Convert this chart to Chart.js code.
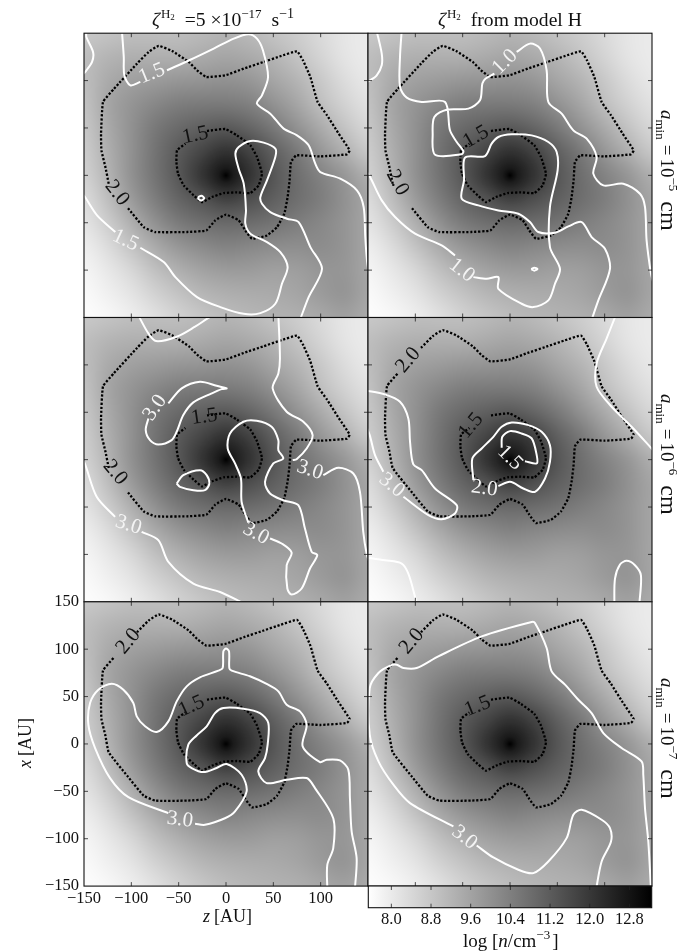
<!DOCTYPE html>
<html>
<head>
<meta charset="utf-8">
<title>Density and ionisation contours</title>
<script src="https://cdn.jsdelivr.net/npm/chart.js@4"></script>
<style>
	html, body { margin: 0; padding: 0; background: #fff; }
	#page { position: relative; width: 697px; height: 951px; overflow: hidden; }
	#page canvas { position: absolute; left: 0; top: 0; }
</style>
</head>
<body>
<div id="page"></div>
<script>
const AU_TICKS = [-150, -100, -50, 0, 50, 100, 150];
const CBAR_TICKS = [8.0, 8.8, 9.6, 10.4, 11.2, 12.0, 12.8];
const CBAR_MIN = 7.535;
const CBAR_MAX = 13.25;

const GRID_AU = [-150, -125, -100, -75, -50, -25, 0, 25, 50, 75, 100, 125, 150];
const density = [
	[8.77, 8.88, 8.99, 8.99, 8.99, 9.10, 9.22, 9.10, 8.88, 8.66, 8.36, 8.10, 7.98],
	[8.99, 9.22, 9.33, 9.33, 9.33, 9.44, 9.55, 9.44, 9.22, 8.88, 8.50, 8.14, 7.98],
	[8.99, 9.44, 9.66, 9.78, 9.89, 9.93, 10.0, 9.89, 9.55, 9.22, 8.77, 8.32, 8.05],
	[8.88, 9.55, 9.93, 10.22, 10.45, 10.52, 10.52, 10.38, 10.0, 9.55, 8.99, 8.54, 8.21],
	[8.77, 9.44, 10.0, 10.56, 10.90, 11.12, 11.28, 11.01, 10.56, 10.0, 9.44, 8.88, 8.43],
	[8.66, 9.33, 10.0, 10.67, 11.23, 11.72, 12.15, 11.80, 11.12, 10.56, 9.89, 9.33, 8.77],
	[8.54, 9.22, 10.0, 10.67, 11.30, 12.10, 12.50, 12.14, 11.35, 10.78, 10.34, 9.89, 9.33],
	[8.32, 8.99, 9.78, 10.45, 11.01, 11.40, 11.80, 11.50, 11.12, 10.78, 10.45, 10.0, 9.55],
	[8.14, 8.66, 9.33, 10.0, 10.52, 10.78, 10.90, 10.83, 10.67, 10.45, 10.22, 9.93, 9.55],
	[7.92, 8.32, 8.88, 9.44, 9.89, 10.16, 10.34, 10.22, 10.11, 10.07, 10.11, 9.93, 9.55],
	[7.76, 8.05, 8.43, 8.95, 9.33, 9.62, 9.78, 9.78, 9.66, 9.71, 9.89, 9.89, 9.55],
	[7.65, 7.87, 8.14, 8.54, 8.88, 9.17, 9.33, 9.40, 9.44, 9.55, 9.78, 9.93, 9.55],
	[7.58, 7.69, 7.92, 8.21, 8.54, 8.81, 9.04, 9.17, 9.26, 9.33, 9.49, 9.66, 9.44],
];
// sharp core at the origin: radius in AU, and how much of the grid gray is kept
const coreRadius = [0, 4, 8, 14, 22, 32];
const coreKeep = [0.0, 0.4, 0.68, 0.84, 0.95, 1.0];

// dotted contours, [z, x] in AU, the same in every panel
const dotted20 = [
	[-123.9, -8.8], [-127.4, 8.8], [-131.6, 26.4], [-132, 44], [-129.9, 77.4], [-118.6, 91],
	[-94, 117.9], [-81.7, 130.2], [-71.1, 136.6], [-57, 131.3], [-39.4, 119.7], [-30.6, 110.9],
	[-20.8, 103.8], [-0.7, 105.6], [18.7, 112.6], [39.8, 119.7], [57.4, 125.7], [75, 130.9],
	[81.3, 121.4], [89.1, 103.8], [96.8, 77.4], [106.7, 63.4], [119, 44], [130.6, 26.4],
	[127.8, 22.2], [99.6, 20], [74.3, 21.1], [68.6, 14.1], [67.2, -5.3], [65.1, -22.9],
	[61.6, -40.5], [53.9, -54.6], [43.3, -63.4], [27.5, -66.9], [20.4, -58.1], [13.4, -47.5],
	[0, -41.5], [-11.3, -47.5], [-20.8, -58.1], [-41.2, -59.8], [-74.6, -59.8], [-86.9, -54.6],
	[-104.5, -33.4],
];
const dotted15 = [
	[-20.1, 46.8], [-0.7, 48.9], [11.6, 42.2], [25.7, 31.7], [32.7, 19.4], [38, 1.8],
	[34.5, -10.6], [25.7, -18.7], [11.6, -18], [-2.5, -18.7], [-14.8, -22.9], [-25.3, -28.2],
	[-34.1, -21.1], [-44.7, -10.6], [-50.7, 1.8], [-52.4, 14.1], [-51.7, 26.4], [-42.9, 33.4],
];
// same outer contour with the label gap at the upper left instead of the lower left
const dotted20Upper = dotted20.slice(6).concat(dotted20.slice(0, 6));

const white1 = [
	[[-147.5, 152], [-147.5, 146], [-140.4, 130], [-141.5, 119.7], [-148.9, 109], [-153, 105]],
	[[-110, 153], [-108, 125], [-107.4, 105.6], [-101, 95], [-90.5, 98.6]],
	[[-62.3, 110.9], [-37.7, 122], [-13, 133.8], [8.1, 144.3], [23.9, 148.9], [32.7, 144.3], [39, 132],
		[44.4, 103.8], [38, 84.5], [32.7, 75.7], [46.8, 65.1], [60.9, 49.3], [75, 42.2], [87.3, 31.7],
		[94.3, 12.3], [99.6, 3.5], [120.7, -3.5], [138.3, -15.8], [145.4, -33.4], [147.1, -65.1],
		[148.9, -89.8], [151, -105]],
	[[78, -153], [87.3, -128.5], [101.4, -98.6], [89.1, -75.7], [76.7, -49.3], [64.4, -45.8], [46.8, -38.7],
		[38, -29.9], [36.3, -22.9], [43.3, -5.3], [52.1, 19.4], [52.1, 28.2], [39.8, 34.5], [25.7, 36.3],
		[13.4, 29.9], [9.9, 22.9], [13.4, 7], [18.7, -8.8], [21.1, -37], [20.4, -51], [25.7, -61.6],
		[43.3, -70.4], [57.4, -81], [65.1, -96.8], [59.1, -114.4], [52.1, -135.5], [36.3, -145.4],
		[18.7, -146.1], [-6, -139], [-30.6, -128.5], [-53.5, -107.4], [-65.8, -91.5], [-90.5, -76.4]],
	[[-116.9, -59.8], [-136.2, -42.2], [-148.9, -22.9], [-153, -18]],
	[[-29.5, -23], [-26, -21.5], [-23, -24], [-26, -26.5], [-29, -25], [-29.5, -23]],
];
const labels1 = [
	["1.5", -78.2, 107.4, -22, "w"], ["1.5", -106.3, -68.6, 25, "w"],
	["2.0", -115.1, -18.7, 52, "k"], ["1.5", -32.4, 42.2, -12, "k"],
];

const white2 = [
	[[-140.8, 152], [-135.5, 128.5], [-135.5, 116.2], [-140.8, 105.6], [-147.8, 100.3], [-153, 98]],
	[[-114.4, 153], [-116.2, 125], [-116.2, 93.3], [-109.1, 82], [-93.3, 77.4], [-68.6, 77.4], [-63.4, 47.5],
		[-56.3, 35.2], [-49.3, 25.7], [-51, 22.2], [-79.2, 21.8], [-81.7, 44], [-79.9, 61.6], [-66.9, 69.3],
		[-44, 70.4], [-31.7, 79.2], [-29.2, 96.8], [-25.7, 102.1], [-16.5, 107.4]],
	[[7, 130.2], [21.1, 139], [31.7, 133.8], [38.7, 110.9], [40.5, 77.4], [54.6, 65.1], [66.9, 47.5],
		[81, 38.7], [91.5, 19.4], [88, 1.8], [98.6, -10.6], [119.7, -8.8], [137.3, -19.4], [142.6, -33.4],
		[144.3, -68.6], [148.9, -103.8], [151, -112]],
	[[86, -153], [93.3, -132], [105.6, -98.6], [100.3, -77.4], [86.2, -65.1], [75.7, -49.3], [61.6, -53.9],
		[47.5, -60.5], [29.9, -59.8], [21.1, -49.3], [8.8, -40.5], [-12.3, -37], [-33.4, -31.7], [-51, -24.6],
		[-48.6, -5.3], [-47.5, 18.7], [-26.4, 20.4], [-19.4, 33.4], [-12.3, 40.5], [1.8, 43.3], [22.9, 42.2],
		[40.5, 35.2], [49.3, 24.6], [50.3, 5.3], [42.2, -33.4], [42.2, -75.7], [52.8, -98.6], [47.5, -114.4],
		[40.5, -132], [24.6, -139], [12.3, -135.5], [-12.3, -119.7], [-12.3, -107.4], [-24.6, -109.1], [-38.7, -107.4]],
	[[-58.1, -84.5], [-72.2, -73.9], [-100.3, -61.6], [-121.4, -44], [-135.5, -26.4], [-147.8, -1.8], [-153, 6]],
	[[22.4, -99], [25.7, -97.4], [29, -98.8], [25.7, -100.6], [22.4, -99]],
];
const labels2 = [
	["1.0", -5.3, 119.7, -45, "w"], ["1.0", -51, -100.3, 38, "w"],
	["2.0", -119, -7.7, 62, "k"], ["1.5", -35.9, 40.5, -30, "k"],
];

const white3 = [
	[[-93, 153], [-82, 133.2], [-73.9, 125.1], [-52.1, 129.7], [-32.7, 140.3], [-19.4, 149], [-12, 153]],
	[[55.3, 153], [57, 106.8], [55.3, 91], [49.3, 75.2], [64.1, 50.5], [81.7, 40], [91.5, 25.9], [85.2, 11.8],
		[74.6, 0.5], [70.4, -0.5]],
	[[102.8, -16.4], [118.6, -8.6], [134.5, -14.6], [141.5, -34], [145, -76.2], [148.5, -99], [152, -110]],
	[[23.6, -66.4], [16.5, -44.5], [15.8, -19.9], [9.5, -4], [1.8, 11.8], [4.2, 27.6], [18.3, 40], [32.4, 41],
		[48.2, 34.7], [55.3, 20.6], [55.3, 10], [60.5, 1.2], [50, -4], [41.2, -23.4], [46.5, -35.7], [60.5, -42.8],
		[76.4, -48], [83.4, -72.7], [90.5, -97.3], [96.4, -100.8], [88.7, -114.9], [79.9, -136], [69.3, -142.4],
		[64.8, -136], [64.1, -111.4], [69.3, -98], [58.8, -88.5], [46.5, -83.2]],
	[[-60.9, 59.3], [-46.8, 75.2], [-27.5, 82.2], [-9.9, 78], [0.7, 75.2], [-4.6, 74.4], [-15.1, 69.9], [-34.5, 60.4],
		[-45.1, 47], [-52.1, 29.4], [-57.4, 20.6], [-71.5, 16], [-80.3, 20.6], [-84.8, 31.2], [-82, 43.5]],
	[[-52.1, -25.2], [-45.1, -16.4], [-27.5, -11.1], [-20.4, -16.4], [-17.6, -25.2], [-22.2, -32.2], [-34.5, -32.2],
		[-48.6, -28.7], [-52.1, -25.2]],
	[[-153, 2], [-149.2, -4], [-136.6, -39.2], [-117.2, -60.4]],
	[[-89.1, -76.2], [-71.5, -85], [-60.9, -107.9], [-34.5, -130.8], [-6.3, -139.6], [14.1, -149.4], [20, -153]],
];
const labels3 = [
	["3.0", -75, 54.7, -55, "w"], ["3.0", 88.7, -11, 18, "w"], ["3.0", 31.7, -78, 28, "w"],
	["3.0", -103, -69, 18, "w"], ["2.0", -117.2, -13.6, 50, "k"], ["1.5", -22.9, 45.2, -8, "k"],
];

const white4 = [
	[[112, 153], [102.1, 128], [91.5, 101.5], [91.5, 76.9], [107.4, 55.8], [128.5, 34.7], [148.9, 12.5], [153, 8]],
	[[-153, 73], [-132, 68.8], [-116.2, 61.1], [-107.4, 43.5], [-105.6, 18.8], [-102.1, -5.1], [-93.3, -11.1],
		[-79.2, -30.4], [-56.3, -48], [-58.1, -56.8], [-72.2, -62.8], [-86.2, -58.6], [-112.6, -39.2]],
	[[-133.8, -12.8], [-142.6, 4.8], [-148.2, 25.9], [-153, 38]],
	[[-38.7, -21.6], [-39.8, 1.2], [-29.9, 11.8], [-17.6, 24.1], [-8.8, 34.7], [1.8, 39.2], [19.4, 36.4], [33.4, 29.4],
		[42.2, 15.3], [42.2, -2.3], [37, -19.9], [26.4, -34], [14.1, -30.4], [0, -23.4], [-12.3, -28]],
	[[-8.8, 12.5], [-8.1, 24.1], [0, 30.1], [12.3, 27.6], [22.9, 22.4], [28.2, 4.8], [28.2, -4], [15.8, -1.6]],
	[[-153, -103], [-132, -106.1], [-114.4, -109.6], [-107.4, -120.2], [-100.3, -144.8], [-98.6, -153]],
	[[110.2, -153], [110.9, -125.5], [116.2, -110.7], [123.2, -106.8], [132, -111.4], [138.3, -122], [136.6, -153]],
];
const labels4 = [
	["3.0", -125, -27, 40, "w"], ["2.0", -27.1, -30.4, 8, "w"], ["1.5", 0, 1.9, 45, "w"],
	["2.0", -107.4, 105, -50, "k"], ["1.5", -41.2, 35.7, -50, "k"],
];

const white5 = [
	[[136.2, -153], [138, -120.5], [132.7, -92.3], [130.9, -57.1], [129.2, -27.2], [120.4, -17.4], [106.3, -16.6],
		[99.3, -19.1], [81, -2.6], [85.2, 20.3], [78.1, 34.4], [64.1, 41.4], [55.3, 55.5], [42.9, 63.3], [25.3, 71.4],
		[6, 77.3], [3.5, 80.1], [3.2, 97.7], [0, 100.6], [-2.8, 97.7], [-3.5, 80.1], [-8.1, 77.3], [-27.5, 70.3],
		[-41.5, 60.8], [-52.1, 44.9], [-60.9, 23.8], [-73.2, 12.6], [-85.5, 18.6], [-94.3, 29.1], [-97.9, 43.2],
		[-108.4, 57.3], [-120.7, 63.6], [-134.8, 57.3], [-143.6, 43.2], [-145.4, 20.3], [-138.3, -4.3], [-122.5, -36],
		[-103.1, -56.1], [-60.9, -73]],
	[[-32.7, -84.3], [-22.2, -85.3], [-1.1, -78.4], [9.5, -71.2], [21.8, -50.1], [16.5, -32.5], [0.7, -21.2],
		[-9.9, -25.4], [-23.9, -29.7], [-36.3, -25.4], [-41.5, -20.2], [-39.8, -0.8], [-31, 9], [-20.4, 18.6],
		[-11.6, 32.6], [-2.8, 37.9], [18.3, 37.2], [35.9, 32.6], [44.7, 22.1], [44, -0.8], [41.2, -14.9], [34.1, -29],
		[42.9, -41.3], [64.1, -37.8], [85.2, -36], [94, -46.6], [113.3, -78.4], [113.3, -110], [107, -127.6], [107, -153]],
];
const labels5 = [
	["3.0", -48.6, -80, 8, "w"], ["2.0", -103.1, 108.3, -50, "k"], ["1.5", -36.3, 39.7, -25, "k"],
];

const white6 = [
	[[91, -153], [96.8, -124], [106.7, -102.9], [105.6, -88.8], [96.8, -80], [75.7, -69.5], [66.9, -74.7], [59.8, -99.4],
		[40.5, -124], [24.6, -136.3], [8.8, -132.8], [-17.6, -119.8], [-35.2, -107.1]],
	[[-59.8, -87.1], [-105.6, -62.4], [-123.2, -43], [-139, -18.4], [-148.2, 9.8], [-148.2, 59], [-139, 74.9],
		[-126.7, 82.6], [-119.7, 83.6], [-112.6, 80.1], [-98.6, 80.1], [-75.7, 92.4], [-29.9, 113.5], [22.9, 128.7],
		[26.4, 127.7], [38.7, 101.3], [44, 76.6], [58.1, 62.6], [72.2, 46.7], [86.2, 32.6], [98.6, 11.5], [117.9, -4.3],
		[139, -18.4], [140.8, -32.5], [142.6, -67.7], [146.1, -103], [148.9, -153]],
];
const labels6 = [
	["3.0", -48.2, -98.7, 38, "w"], ["2.0", -103.8, 108.3, -50, "k"], ["1.5", -34.1, 39.7, -22, "k"],
];

const SERIF = '"Liberation Serif"';
const PANEL_W = 284;
const PANEL_H = 284.3;
const COL_LEFT = [84, 368];
const ROW_TOP = [33.2, 317.5, 601.8];

const grayOf = (v) => Math.round((255 * (CBAR_MAX - v)) / (CBAR_MAX - CBAR_MIN));

// the density field as a small image, stretched over the panel like imshow
const densityImage = document.createElement("canvas");
densityImage.width = GRID_AU.length;
densityImage.height = GRID_AU.length;
const imgCtx = densityImage.getContext("2d");
const imgData = imgCtx.createImageData(GRID_AU.length, GRID_AU.length);
density.forEach((row, r) => {
	row.forEach((v, c) => {
		const i = (r * GRID_AU.length + c) * 4;
		imgData.data[i] = imgData.data[i + 1] = imgData.data[i + 2] = grayOf(v);
		imgData.data[i + 3] = 255;
	});
});
imgCtx.putImageData(imgData, 0, 0);

// text made of runs with their own size, slant and baseline shift
const drawRuns = (ctx, x, y, runs, angle) => {
	ctx.save();
	ctx.translate(x, y);
	ctx.rotate((angle || 0) * Math.PI / 180);
	ctx.textAlign = "left";
	ctx.textBaseline = "alphabetic";
	ctx.fillStyle = "#111";
	let pos = 0;
	runs.forEach((run) => {
		ctx.font = (run.i ? "italic " : "") + run.s + "px " + SERIF;
		ctx.fillText(run.t, pos, run.dy || 0);
		pos += ctx.measureText(run.t).width + (run.gap || 0);
	});
	ctx.restore();
};

const panelPlugin = {
	id: "panel",
	beforeDatasetsDraw(chart) {
		const { ctx, chartArea, scales } = chart;
		const half = (GRID_AU[1] - GRID_AU[0]) / 2;
		const x0 = scales.x.getPixelForValue(GRID_AU[0] - half);
		const x1 = scales.x.getPixelForValue(GRID_AU[GRID_AU.length - 1] + half);
		const y0 = scales.y.getPixelForValue(GRID_AU[GRID_AU.length - 1] + half);
		const y1 = scales.y.getPixelForValue(GRID_AU[0] - half);
		const cx = scales.x.getPixelForValue(0);
		const cy = scales.y.getPixelForValue(0);
		const outer = scales.x.getPixelForValue(coreRadius[coreRadius.length - 1]) - cx;
		ctx.save();
		ctx.beginPath();
		ctx.rect(chartArea.left, chartArea.top, chartArea.width, chartArea.height);
		ctx.clip();
		ctx.imageSmoothingEnabled = true;
		ctx.imageSmoothingQuality = "high";
		ctx.drawImage(densityImage, x0, y0, x1 - x0, y1 - y0);
		const core = ctx.createRadialGradient(cx, cy, 0, cx, cy, outer);
		coreRadius.forEach((r, i) => {
			const k = Math.round(coreKeep[i] * 255);
			core.addColorStop(r / coreRadius[coreRadius.length - 1], `rgb(${k},${k},${k})`);
		});
		ctx.globalCompositeOperation = "multiply";
		ctx.fillStyle = core;
		ctx.fillRect(cx - outer, cy - outer, outer * 2, outer * 2);
		ctx.restore();
	},
	afterDatasetsDraw(chart, args, opts) {
		const { ctx, chartArea, scales } = chart;
		const { left, right, top, bottom } = chartArea;
		ctx.save();
		ctx.beginPath();
		ctx.rect(left, top, chartArea.width, chartArea.height);
		ctx.clip();
		ctx.textAlign = "center";
		ctx.textBaseline = "middle";
		ctx.font = "21px " + SERIF;
		opts.labels.forEach(([text, z, x, angle, tone]) => {
			ctx.save();
			ctx.translate(scales.x.getPixelForValue(z), scales.y.getPixelForValue(x));
			ctx.rotate(angle * Math.PI / 180);
			ctx.fillStyle = tone === "w" ? "#f4f4f4" : "#111";
			ctx.fillText(text, 0, 0);
			ctx.restore();
		});
		ctx.restore();

		// inward ticks on all four sides
		ctx.save();
		ctx.strokeStyle = "#222";
		ctx.lineWidth = 0.8;
		ctx.beginPath();
		AU_TICKS.slice(1, -1).forEach((t) => {
			const px = scales.x.getPixelForValue(t);
			const py = scales.y.getPixelForValue(t);
			ctx.moveTo(px, bottom);
			ctx.lineTo(px, bottom - 4);
			ctx.moveTo(px, top);
			ctx.lineTo(px, top + 4);
			ctx.moveTo(left, py);
			ctx.lineTo(left + 4, py);
			ctx.moveTo(right, py);
			ctx.lineTo(right - 4, py);
		});
		ctx.stroke();
		ctx.lineWidth = 1.1;
		ctx.strokeStyle = "#111";
		ctx.strokeRect(left, top, chartArea.width, chartArea.height);
		ctx.restore();

		(opts.texts || []).forEach((t) => drawRuns(ctx, t.x, t.y, t.runs, t.angle));
	},
};

const sizeLabel = (exp, y) => ({
	x: 661,
	y: y,
	angle: 90,
	runs: [
		{ t: "a", s: 19, i: true },
		{ t: "min", s: 13, dy: 5, gap: 5 },
		{ t: "=", s: 19, gap: 3 },
		{ t: "10", s: 19 },
		{ t: "\u2212" + exp, s: 13, dy: -8, gap: 10 },
		{ t: "cm", s: 24 },
	],
});

const titleLeft = {
	x: 152,
	y: 26,
	runs: [
		{ t: "\u03b6", s: 19.6, i: true, gap: 1 },
		{ t: "H", s: 13, dy: -8 },
		{ t: "2", s: 9, dy: -6, gap: 10 },
		{ t: "=5 \u00d710", s: 19.6 },
		{ t: "\u221217", s: 13, dy: -8, gap: 10 },
		{ t: "s", s: 19.6 },
		{ t: "\u22121", s: 14, dy: -8 },
	],
};
const titleRight = {
	x: 438,
	y: 26,
	runs: [
		{ t: "\u03b6", s: 19.6, i: true, gap: 1 },
		{ t: "H", s: 13, dy: -8 },
		{ t: "2", s: 9, dy: -6, gap: 10 },
		{ t: "from model H", s: 19.6 },
	],
};
const axisTexts = [
	{
		x: 31,
		y: 768,
		angle: -90,
		runs: [{ t: "x", s: 18, i: true, gap: 4 }, { t: "[AU]", s: 18 }],
	},
	{
		x: 203,
		y: 922,
		runs: [{ t: "z", s: 18, i: true, gap: 4 }, { t: "[AU]", s: 18 }],
	},
];

const formatTick = (v) => (v < 0 ? "\u2212" + Math.abs(v) : String(v));

const auScale = (shown, fixedSize, pad, lastLabel) => ({
	type: "linear",
	min: -150,
	max: 150,
	display: shown,
	grid: { display: false, drawTicks: false },
	border: { display: false },
	afterBuildTicks: (scale) => {
		scale.ticks = AU_TICKS.map((v) => ({ value: v }));
	},
	afterFit: (scale) => {
		if (scale.isHorizontal()) scale.height = fixedSize;
		else scale.width = fixedSize;
	},
	ticks: {
		autoSkip: false,
		maxRotation: 0,
		padding: pad,
		color: "#111",
		font: { family: SERIF, size: 16.5 },
		callback: (v) => (v === 150 && !lastLabel ? "" : formatTick(v)),
	},
});

const newCanvas = () => {
	const canvas = document.createElement("canvas");
	canvas.width = 697;
	canvas.height = 951;
	document.querySelector("#page").appendChild(canvas);
	return canvas;
};

const drawPanel = (col, row, whites, labels, outer, texts, withAxes) => {
	const datasets = [];
	whites.forEach((line) => {
		datasets.push({
			data: line.map(([z, x]) => ({ x: z, y: x })),
			showLine: true,
			pointRadius: 0,
			borderColor: "#fff",
			borderWidth: 2,
			tension: 0.3,
		});
	});
	[outer, dotted15].forEach((line) => {
		datasets.push({
			data: line.map(([z, x]) => ({ x: z, y: x })),
			showLine: true,
			pointRadius: 0,
			borderColor: "#000",
			borderWidth: 2.3,
			borderDash: [2.2, 1.8],
			tension: 0.12,
		});
	});
	const xAxisSize = withAxes ? 30 : 0;
	const yAxisSize = withAxes ? 40 : 0;
	new Chart(newCanvas(), {
		type: "scatter",
		data: { datasets: datasets },
		options: {
			responsive: false,
			animation: false,
			events: [],
			layout: {
				padding: {
					left: COL_LEFT[col] - yAxisSize,
					top: ROW_TOP[row],
					right: 697 - COL_LEFT[col] - PANEL_W,
					bottom: 951 - ROW_TOP[row] - PANEL_H - xAxisSize,
				},
			},
			scales: {
				x: auScale(withAxes, xAxisSize, 3, false),
				y: auScale(withAxes, yAxisSize, 5, true),
			},
			plugins: {
				legend: { display: false },
				tooltip: { enabled: false },
				title: { display: false },
				panel: { labels: labels, texts: texts },
			},
		},
		plugins: [panelPlugin],
	});
};

const colorbarPlugin = {
	id: "colorbar",
	beforeDatasetsDraw(chart) {
		const { ctx, chartArea, scales } = chart;
		const { top, bottom, left } = chartArea;
		const fade = ctx.createLinearGradient(
			scales.x.getPixelForValue(CBAR_MIN), 0,
			scales.x.getPixelForValue(CBAR_MAX), 0
		);
		fade.addColorStop(0, "#fff");
		fade.addColorStop(1, "#000");
		ctx.save();
		ctx.fillStyle = fade;
		ctx.fillRect(left, top, chartArea.width, chartArea.height);
		ctx.strokeStyle = "#222";
		ctx.lineWidth = 0.8;
		ctx.beginPath();
		CBAR_TICKS.forEach((t) => {
			const px = scales.x.getPixelForValue(t);
			ctx.moveTo(px, top);
			ctx.lineTo(px, top + 4);
			ctx.moveTo(px, bottom);
			ctx.lineTo(px, bottom - 4);
		});
		ctx.stroke();
		ctx.lineWidth = 1.1;
		ctx.strokeStyle = "#111";
		ctx.strokeRect(left, top, chartArea.width, chartArea.height);
		ctx.restore();
		drawRuns(ctx, 463, 947, [
			{ t: "log [", s: 19 },
			{ t: "n", s: 19, i: true },
			{ t: "/cm", s: 19 },
			{ t: "\u22123", s: 13, dy: -8, gap: 2 },
			{ t: "]", s: 19 },
		]);
	},
};

const drawColorbar = () => {
	new Chart(newCanvas(), {
		type: "scatter",
		data: { datasets: [] },
		options: {
			responsive: false,
			animation: false,
			events: [],
			layout: {
				padding: { left: 368.3, top: 886, right: 697 - 651.7, bottom: 951 - 907.7 - 24 },
			},
			scales: {
				x: {
					type: "linear",
					min: CBAR_MIN,
					max: CBAR_MAX,
					grid: { display: false, drawTicks: false },
					border: { display: false },
					afterBuildTicks: (scale) => {
						scale.ticks = CBAR_TICKS.map((v) => ({ value: v }));
					},
					afterFit: (scale) => {
						scale.height = 24;
					},
					ticks: {
						autoSkip: false,
						maxRotation: 0,
						padding: 2,
						color: "#111",
						font: { family: SERIF, size: 16.5 },
						callback: (v) => v.toFixed(1),
					},
				},
				y: { display: false, min: 0, max: 1, afterFit: (scale) => { scale.width = 0; } },
			},
			plugins: { legend: { display: false }, tooltip: { enabled: false } },
		},
		plugins: [colorbarPlugin],
	});
};

drawPanel(0, 0, white1, labels1, dotted20, [titleLeft], false);
drawPanel(1, 0, white2, labels2, dotted20, [titleRight, sizeLabel(5, 110)], false);
drawPanel(0, 1, white3, labels3, dotted20, [], false);
drawPanel(1, 1, white4, labels4, dotted20Upper, [sizeLabel(6, 394)], false);
drawPanel(0, 2, white5, labels5, dotted20Upper, axisTexts, true);
drawPanel(1, 2, white6, labels6, dotted20Upper, [sizeLabel(7, 678)], false);
drawColorbar();
</script>
</body>
</html>
